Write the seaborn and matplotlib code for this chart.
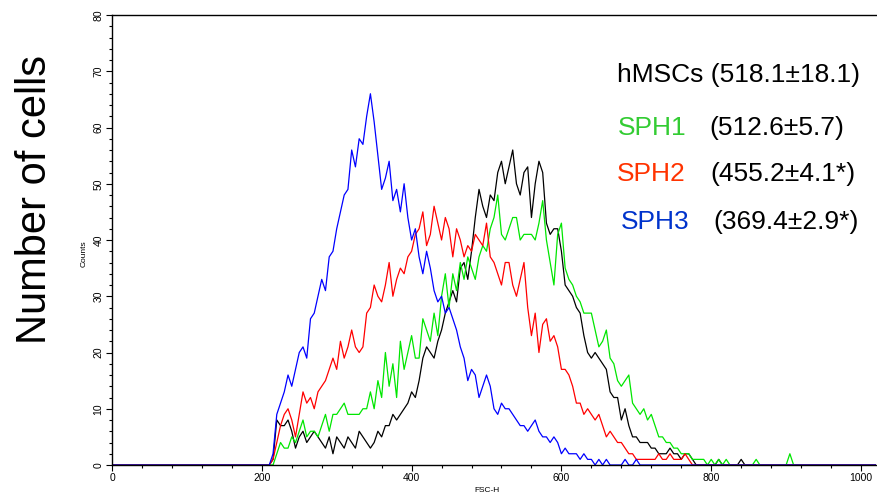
import matplotlib

matplotlib.use("Agg")
import matplotlib.pyplot as plt  # noqa: E402
import numpy as np  # noqa: E402
import pandas as pd  # noqa: E402
import seaborn as sns  # noqa: E402
from matplotlib.ticker import MultipleLocator  # noqa: E402

# FSC-H channels sampled every 5 channels over the populated window (215..910)
channels = np.arange(215, 915, 5)

# counts per channel (10 values per row)
hmscs = [
    1, 8, 7, 7, 8, 6, 3, 5, 6, 4,
    5, 6, 5, 4, 3, 5, 2, 5, 4, 3,
    5, 4, 3, 6, 5, 4, 3, 4, 6, 5,
    7, 7, 9, 8, 9, 10, 11, 13, 12, 15,
    19, 21, 20, 19, 22, 24, 27, 29, 31, 29,
    35, 36, 33, 38, 44, 49, 46, 44, 48, 47,
    52, 54, 50, 53, 56, 50, 48, 52, 53, 44,
    50, 54, 52, 43, 41, 42, 42, 38, 32, 31,
    30, 28, 27, 23, 20, 19, 20, 19, 18, 17,
    13, 12, 12, 8, 10, 7, 5, 5, 4, 4,
    4, 3, 3, 2, 2, 2, 3, 2, 2, 1,
    2, 2, 1, 0, 0, 0, 0, 0, 0, 1,
    0, 0, 0, 0, 0, 1, 0, 0, 0, 0,
    0, 0, 0, 0, 0, 0, 0, 0, 0, 0,
]
sph1 = [
    0, 2, 4, 3, 3, 5, 4, 6, 8, 5,
    6, 6, 5, 7, 9, 6, 9, 9, 10, 11,
    9, 9, 9, 9, 10, 10, 13, 10, 15, 12,
    20, 14, 18, 12, 22, 17, 20, 23, 19, 19,
    26, 24, 22, 27, 23, 30, 34, 28, 34, 31,
    36, 33, 37, 35, 33, 37, 39, 38, 42, 44,
    48, 41, 40, 42, 44, 44, 40, 41, 41, 41,
    40, 43, 47, 40, 36, 32, 41, 43, 35, 33,
    32, 30, 29, 27, 27, 27, 24, 21, 22, 24,
    19, 18, 15, 14, 15, 16, 11, 10, 9, 10,
    8, 9, 7, 5, 5, 4, 4, 3, 3, 2,
    2, 2, 1, 1, 1, 1, 0, 1, 0, 1,
    0, 1, 0, 0, 0, 0, 0, 0, 0, 1,
    0, 0, 0, 0, 0, 0, 0, 0, 2, 0,
]
sph2 = [
    1, 4, 7, 9, 10, 8, 5, 9, 13, 11,
    12, 10, 13, 14, 15, 17, 19, 17, 22, 19,
    21, 24, 21, 20, 21, 27, 28, 32, 30, 29,
    32, 36, 30, 33, 35, 34, 37, 38, 41, 42,
    45, 39, 41, 46, 43, 40, 44, 42, 37, 42,
    40, 37, 39, 38, 41, 40, 39, 43, 37, 36,
    34, 32, 36, 36, 32, 30, 33, 36, 28, 23,
    27, 20, 25, 26, 22, 23, 21, 17, 17, 16,
    14, 11, 11, 9, 10, 9, 8, 9, 7, 5,
    6, 5, 4, 4, 3, 2, 2, 1, 1, 1,
    1, 1, 1, 2, 1, 1, 2, 1, 1, 1,
    2, 1, 0, 0, 0, 0, 0, 0, 0, 0,
    0, 0, 0, 0, 0, 0, 0, 0, 0, 0,
    0, 0, 0, 0, 0, 0, 0, 0, 0, 0,
]
sph3 = [
    2, 9, 11, 13, 16, 14, 17, 20, 21, 19,
    26, 27, 30, 33, 31, 37, 38, 42, 45, 48,
    49, 56, 53, 58, 57, 62, 66, 61, 55, 49,
    51, 54, 47, 49, 45, 50, 44, 40, 42, 37,
    34, 38, 35, 31, 29, 30, 27, 28, 26, 24,
    21, 19, 15, 17, 16, 12, 14, 16, 14, 10,
    9, 11, 10, 10, 9, 8, 7, 7, 6, 7,
    8, 6, 5, 5, 4, 5, 4, 2, 3, 2,
    2, 2, 1, 2, 1, 1, 0, 1, 0, 1,
    0, 0, 0, 0, 1, 0, 0, 1, 0, 0,
    0, 0, 0, 0, 0, 0, 0, 0, 0, 0,
    0, 0, 0, 0, 0, 0, 0, 0, 0, 0,
    0, 0, 0, 0, 0, 0, 0, 0, 0, 0,
    0, 0, 0, 0, 0, 0, 0, 0, 0, 0,
]

series_names = ["hMSCs", "SPH1", "SPH2", "SPH3"]
series_counts = [hmscs, sph1, sph2, sph3]
line_colors = ["#000000", "#00e600", "#ff0000", "#0000ff"]
label_colors = ["#000000", "#33cc33", "#ff3300", "#0033cc"]
label_stats = ["(518.1\u00b118.1)", "(512.6\u00b15.7)", "(455.2\u00b14.1*)", "(369.4\u00b12.9*)"]

# empty channels either side of the window sit on the baseline
pad_lo = [0, 210]
pad_hi = [915, 1023]

frames = []
for name, counts in zip(series_names, series_counts, strict=True):
    x = np.concatenate([pad_lo, channels, pad_hi])
    y = np.concatenate([[0, 0], counts, [0, 0]])
    frames.append(pd.DataFrame({"FSC-H": x, "Counts": y, "sample": name}))
df = pd.concat(frames, ignore_index=True)

sns.set_style("ticks")
plt.rcParams["font.family"] = ["Liberation Sans", "DejaVu Sans"]
plt.rcParams.update({
    "text.color": "black",
    "axes.labelcolor": "black",
    "xtick.color": "black",
    "ytick.color": "black",
    "axes.edgecolor": "black",
})

W, H = 877, 500
fig = plt.figure(figsize=(W / 100, H / 100), dpi=100)
ax = fig.add_axes([112 / W, 35 / H, 764 / W, 450 / H])

sns.lineplot(
    data=df,
    x="FSC-H",
    y="Counts",
    hue="sample",
    hue_order=series_names,
    palette=dict(zip(series_names, line_colors, strict=True)),
    estimator=None,
    linewidth=0.9,
    legend=False,
    ax=ax,
)

ax.set_xlim(0, 1020)
ax.set_ylim(0, 80)
ax.xaxis.set_major_locator(MultipleLocator(200))
ax.xaxis.set_minor_locator(MultipleLocator(40))
ax.yaxis.set_major_locator(MultipleLocator(10))
ax.yaxis.set_minor_locator(MultipleLocator(2))
ax.tick_params(which="major", length=4, width=0.8, labelsize=7.5, pad=2, color="black")
ax.tick_params(which="minor", length=2.5, width=0.8, color="black")
for lbl in ax.get_yticklabels():
    lbl.set_rotation(90)
    lbl.set_va("center")

for side in ["left", "bottom", "top"]:
    ax.spines[side].set_color("black")
    ax.spines[side].set_linewidth(1.0)
ax.spines["right"].set_visible(False)

ax.set_xlabel("FSC-H", fontsize=6)
ax.set_ylabel("Counts", fontsize=6)
ax.xaxis.set_label_coords((487 - 112) / 764, -22 / 450)
ax.yaxis.set_label_coords(-24 / 764, 0.47)

fig.text(35 / W, 1 - 200 / H, "Number of cells", rotation=90, fontsize=30,
         ha="center", va="center", color="black")

name_x = [617, 618, 617, 621]
stat_x = [None, 709, 710, 713]
row_y = [75, 128, 174, 222]
for i, name in enumerate(series_names):
    if i == 0:
        fig.text(name_x[i] / W, 1 - row_y[i] / H, f"{name} {label_stats[i]}",
                 fontsize=19, color=label_colors[i], va="center")
    else:
        fig.text(name_x[i] / W, 1 - row_y[i] / H, name,
                 fontsize=19, color=label_colors[i], va="center")
        fig.text(stat_x[i] / W, 1 - row_y[i] / H, label_stats[i],
                 fontsize=19, color="black", va="center")

fig.savefig("out.png", dpi=100)
